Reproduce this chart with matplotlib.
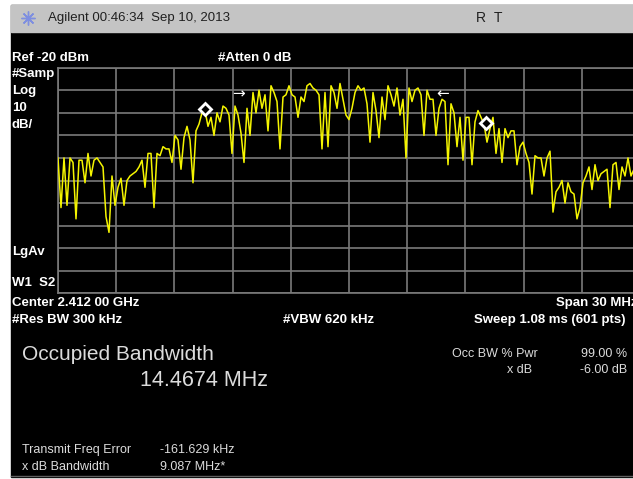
import numpy as np
import matplotlib
matplotlib.use('Agg')
import matplotlib.pyplot as plt
from matplotlib.patches import Rectangle

plt.rcParams['font.family'] = ['Liberation Sans', 'DejaVu Sans']

# Trace (dBm), evenly spaced across the span
trace_dbm = [
    -60, -82, -60, -81, -60, -62, -87, -61, -61, -71,
    -58, -68, -61, -60, -62, -64, -86, -93, -68, -81,
    -73, -69, -81, -70, -68, -67, -66, -64, -61, -73,
    -58, -58, -82, -58, -59, -55, -56, -56, -62, -50,
    -52, -65, -51, -46, -52, -71, -48, -45, -40, -39,
    -46, -42, -50, -40, -44, -37, -38, -41, -58, -37,
    -41, -49, -62, -38, -50, -31, -40, -30, -38, -32,
    -48, -28, -31, -35, -56, -33, -32, -28, -32, -33,
    -42, -33, -35, -28, -27, -29, -30, -32, -56, -31,
    -55, -28, -31, -38, -27, -34, -41, -43, -38, -31,
    -28, -30, -29, -36, -53, -31, -39, -51, -33, -43,
    -28, -32, -37, -29, -41, -34, -60, -29, -35, -30,
    -29, -32, -50, -30, -34, -34, -50, -38, -34, -35,
    -63, -36, -40, -55, -42, -61, -42, -42, -63, -44,
    -39, -42, -45, -53, -47, -42, -58, -47, -62, -47,
    -51, -48, -48, -63, -55, -53, -58, -62, -76, -59,
    -60, -60, -68, -60, -57, -84, -75, -73, -70, -80,
    -71, -75, -76, -87, -82, -71, -68, -64, -74, -63,
    -70, -67, -66, -65, -82, -63, -62, -74, -64, -68,
    -60, -68, -65, -62, -66,
]
start_mhz, stop_mhz = 2397.0, 2427.0
ref_dbm = -20
db_per_div = 10

obw_marker_mhz = [2404.6, 2419.07]
obw_marker_dbm = [-38.5, -44.5]
xdb_arrow_mhz = [2406.3, 2416.85]
xdb_arrow_dbm = [-31.5, -31.5]

freq_mhz = np.linspace(start_mhz, stop_mhz, len(trace_dbm))

W, H = 633, 479
fig = plt.figure(figsize=(W / 100, H / 100), dpi=100)
fig.patch.set_facecolor('white')

# background / annotation layer in pixel coords
bg = fig.add_axes([0, 0, 1, 1], zorder=-1)
bg.set_xlim(0, W)
bg.set_ylim(H, 0)
bg.axis('off')
bg.add_patch(Rectangle((11, 5), W - 11, 472, color='black'))
bg.add_patch(Rectangle((11, 5), W - 11, 27, color='#c4c4c4'))
bg.plot([11, W], [476, 476], color='#606060', lw=1)

# title bar
bg.plot(28, 18, marker=(8, 2, 0), ms=10, mew=1, color='#7f8fe0')
bg.plot(28, 18, marker='o', ms=3, color='#7f8fe0')
bg.text(48, 18, 'Agilent 00:46:34  Sep 10, 2013', fontsize=9.5, color='#202020', va='center')
bg.text(476, 18, 'R', fontsize=10, color='#202020', va='center')
bg.text(494, 18, 'T', fontsize=10, color='#202020', va='center')

lab = dict(color='white', fontsize=9.5, weight='bold', va='center')
bg.text(12, 58, 'Ref -20 dBm', **lab)
bg.text(218, 58, '#Atten 0 dB', **lab)
for y, s in [(74, '#Samp'), (91, 'Log'), (108, '10'), (125, 'dB/'),
             (252, 'LgAv'), (283, 'W1  S2')]:
    bg.text(12, y, s, **lab)
bg.text(12, 303, 'Center 2.412 00 GHz', **lab)
bg.text(556, 303, 'Span 30 MHz', **lab)
bg.text(12, 320, '#Res BW 300 kHz', **lab)
bg.text(283, 320, '#VBW 620 kHz', **lab)
bg.text(474, 320, 'Sweep 1.08 ms (601 pts)', **lab)

# measurement results
txt = '#dcdcdc'
bg.text(22, 354, 'Occupied Bandwidth', fontsize=15, color=txt, va='center')
bg.text(140, 380, '14.4674 MHz', fontsize=15.5, color=txt, va='center')
small = dict(fontsize=9, color=txt, va='center')
bg.text(452, 354, 'Occ BW % Pwr', **small)
bg.text(627, 354, '99.00 %', ha='right', **small)
bg.text(532, 370, 'x dB', ha='right', **small)
bg.text(627, 370, '-6.00 dB', ha='right', **small)
bg.text(22, 450, 'Transmit Freq Error', **small)
bg.text(160, 450, '-161.629 kHz', **small)
bg.text(22, 467, 'x dB Bandwidth', **small)
bg.text(160, 467, '9.087 MHz*', **small)

# spectrum graticule
x0, x1, y0, y1 = 58, 640, 67.7, 293.3
ax = fig.add_axes([x0 / W, 1 - y1 / H, (x1 - x0) / W, (y1 - y0) / H])
ax.set_facecolor('black')
ax.set_xlim(start_mhz, stop_mhz)
ax.set_ylim(ref_dbm - 10 * db_per_div, ref_dbm)
ax.set_xticks(np.linspace(start_mhz, stop_mhz, 11))
ax.set_yticks(np.arange(ref_dbm - 10 * db_per_div, ref_dbm + 1, db_per_div))
ax.tick_params(length=0, labelbottom=False, labelleft=False)
ax.grid(True, color='#7a7a7a', lw=1.2, zorder=0)
for spine in ax.spines.values():
    spine.set_color('#7a7a7a')
    spine.set_linewidth(1.2)

ax.plot(freq_mhz, trace_dbm, color='#f5f500', lw=1.1, zorder=3)
ax.plot(obw_marker_mhz, obw_marker_dbm, ls='none', marker='D', ms=6,
        mfc='black', mec='white', mew=2, zorder=4)
ax.text(xdb_arrow_mhz[0], xdb_arrow_dbm[0], '\u2192', color='white', fontsize=11,
        ha='center', va='center', family='DejaVu Sans', zorder=4)
ax.text(xdb_arrow_mhz[1], xdb_arrow_dbm[1], '\u2190', color='white', fontsize=11,
        ha='center', va='center', family='DejaVu Sans', zorder=4)

fig.savefig('out.png', dpi=100, facecolor='white')
